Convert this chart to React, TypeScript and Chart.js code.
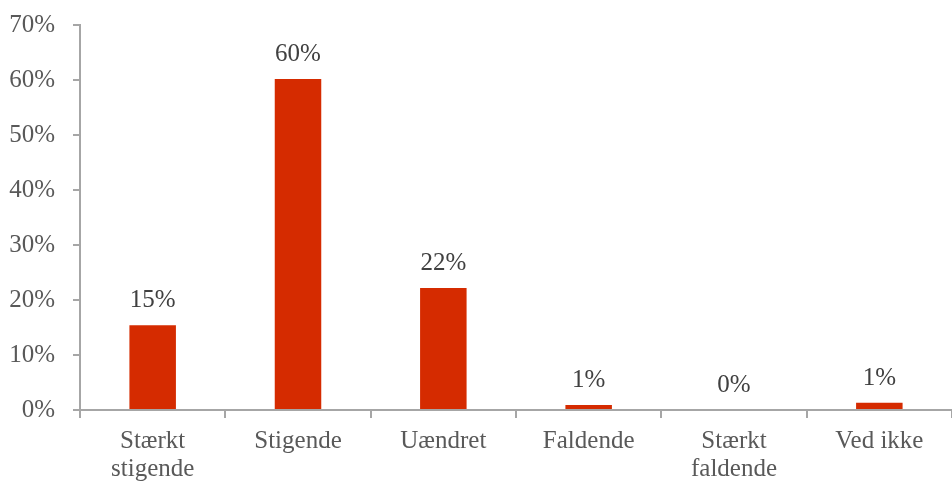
import React, { useEffect, useRef } from "react";
import { Chart, registerables } from "chart.js";

Chart.register(...registerables);

const categories: (string | string[])[] = [
  ["Stærkt", "stigende"],
  "Stigende",
  "Uændret",
  "Faldende",
  ["Stærkt", "faldende"],
  "Ved ikke",
];
const values = [15.4, 60.2, 22.2, 0.9, 0, 1.3];
const valueLabels = ["15%", "60%", "22%", "1%", "0%", "1%"];
const yTicks = [0, 10, 20, 30, 40, 50, 60, 70];

const FONT = "'Liberation Serif', serif";

const labelPlugin = {
  id: "valueLabels",
  afterDatasetsDraw(chart: any) {
    const { ctx } = chart;
    const meta = chart.getDatasetMeta(0);
    ctx.save();
    ctx.font = `25px ${FONT}`;
    ctx.fillStyle = "#404040";
    ctx.textAlign = "center";
    ctx.textBaseline = "alphabetic";
    meta.data.forEach((bar: any, i: number) => {
      ctx.fillText(valueLabels[i], bar.x, bar.y - 18);
    });
    ctx.restore();
  },
};

export default function App() {
  const ref = useRef<HTMLCanvasElement>(null);
  useEffect(() => {
    document.body.style.margin = "0";
    const chart = new Chart(ref.current!, {
      type: "bar",
      data: {
        labels: categories,
        datasets: [
          {
            data: values,
            backgroundColor: "#D52B00",
            barPercentage: 0.32,
            categoryPercentage: 1,
          },
        ],
      },
      options: {
        animation: false,
        responsive: false,
        layout: { padding: { top: 25, right: 0, left: 0, bottom: 0 } },
        plugins: { legend: { display: false }, tooltip: { enabled: false } },
        scales: {
          x: {
            grid: {
              offset: true,
              drawOnChartArea: false,
              drawTicks: true,
              tickLength: 8,
              color: "#a6a6a6",
              lineWidth: 2,
            },
            border: { color: "#a6a6a6", width: 2 },
            ticks: {
              font: { family: FONT, size: 25, lineHeight: 1.1 },
              color: "#595959",
              padding: 10,
              maxRotation: 0,
              autoSkip: false,
            },
            afterFit: (s: any) => {
              s.height = 71;
              s.paddingLeft = 0;
              s.paddingRight = 0;
            },
          },
          y: {
            min: 0,
            max: 70,
            afterBuildTicks: (s: any) => {
              s.ticks = yTicks.map((v) => ({ value: v }));
            },
            grid: {
              drawOnChartArea: false,
              drawTicks: true,
              tickLength: 7,
              color: "#a6a6a6",
              lineWidth: 2,
            },
            border: { color: "#a6a6a6", width: 2 },
            ticks: {
              font: { family: FONT, size: 25 },
              color: "#595959",
              padding: 18,
              callback: (v: any) => `${v}%`,
            },
            afterFit: (s: any) => {
              s.width = 80;
              s.paddingTop = 0;
              s.paddingBottom = 0;
            },
          },
        },
      },
      plugins: [labelPlugin],
    });
    return () => chart.destroy();
  }, []);
  return (
    <div style={{ width: 952, height: 481 }}>
      <canvas ref={ref} width={952} height={481} style={{ width: 952, height: 481 }} />
    </div>
  );
}
